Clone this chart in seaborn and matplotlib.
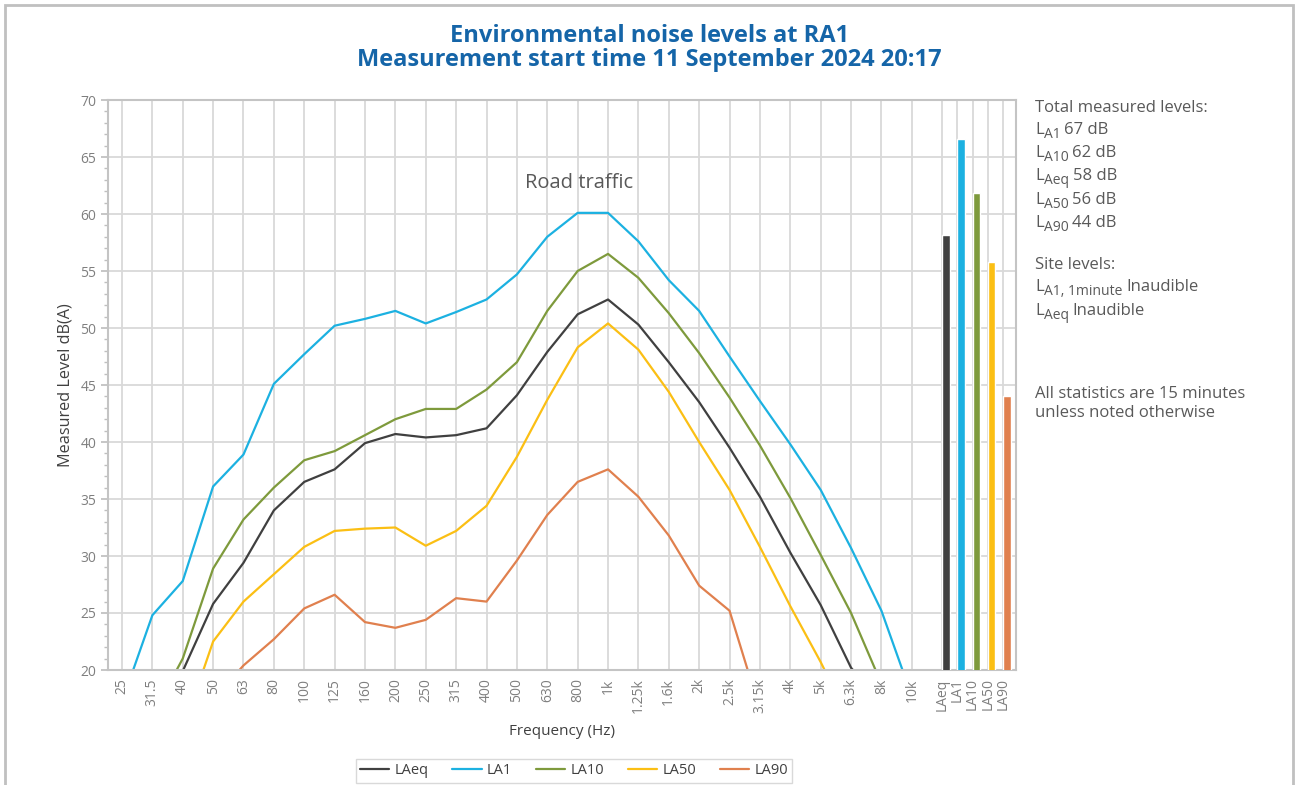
import seaborn as sns
import matplotlib.pyplot as plt
import numpy as np
import pandas as pd
from matplotlib.ticker import MultipleLocator
from matplotlib.patches import Rectangle

# third-octave band labels
freqs = ['25', '31.5', '40', '50', '63', '80', '100', '125', '160', '200', '250', '315',
         '400', '500', '630', '800', '1k', '1.25k', '1.6k', '2k', '2.5k', '3.15k', '4k',
         '5k', '6.3k', '8k', '10k']

laeq = [12.0, 15.0, 19.9, 25.8, 29.4, 34.0, 36.5, 37.6, 39.9, 40.7, 40.4, 40.6, 41.2, 44.1,
        47.9, 51.2, 52.5, 50.3, 47.0, 43.5, 39.5, 35.2, 30.3, 25.7, 20.2, 17.0, 10.0]
la1 = [17.2, 24.8, 27.8, 36.1, 38.9, 45.1, 47.7, 50.2, 50.8, 51.5, 50.4, 51.4, 52.5, 54.7,
       58.0, 60.1, 60.1, 57.6, 54.2, 51.5, 47.5, 43.6, 39.8, 35.8, 30.7, 25.2, 17.7]
la10 = [13.0, 16.0, 21.0, 28.9, 33.2, 36.0, 38.4, 39.2, 40.6, 42.0, 42.9, 42.9, 44.6, 47.0,
        51.5, 55.0, 56.5, 54.4, 51.3, 47.8, 43.9, 39.7, 35.1, 30.1, 25.0, 18.8, 13.0]
la50 = [10.0, 12.0, 14.7, 22.5, 26.0, 28.4, 30.8, 32.2, 32.4, 32.5, 30.9, 32.2, 34.4, 38.7,
        43.7, 48.3, 50.4, 48.1, 44.4, 40.0, 35.8, 30.8, 25.6, 20.7, 15.3, 10.0, 8.0]
la90 = [8.0, 10.0, 12.0, 17.4, 20.4, 22.7, 25.4, 26.6, 24.2, 23.7, 24.4, 26.3, 26.0, 29.6,
        33.6, 36.5, 37.6, 35.2, 31.8, 27.4, 25.2, 16.5, 10.0, 8.0, 6.0, 5.0, 5.0]

total_labels = ['LAeq', 'LA1', 'LA10', 'LA50', 'LA90']
total_values = [58.2, 66.6, 61.8, 55.8, 44.0]

colours = {'LAeq': '#404040', 'LA1': '#1cb1e1', 'LA10': '#7e9a3c',
           'LA50': '#fbbf14', 'LA90': '#e0804e'}

series = {'LAeq': laeq, 'LA1': la1, 'LA10': la10, 'LA50': la50, 'LA90': la90}
pos = np.arange(len(freqs))
df = pd.concat([pd.DataFrame({'x': pos, 'level': v, 'stat': k}) for k, v in series.items()])

sns.set_theme(style='white')
plt.rcParams['font.family'] = ['Open Sans', 'DejaVu Sans']

fig = plt.figure(figsize=(12.96, 7.85), dpi=100)
ax = fig.add_axes([108 / 1296, 1 - 670 / 785, (1016 - 108) / 1296, (670 - 100) / 785])

sns.lineplot(data=df, x='x', y='level', hue='stat', hue_order=total_labels,
             palette=colours, linewidth=1.6, ax=ax)

bar_pos = len(freqs) + 0.5 * np.arange(len(total_labels))
ax.bar(bar_pos, total_values, width=0.25, align='edge',
       color=[colours[k] for k in total_labels], zorder=3)

ax.set_ylim(20, 70)
ax.set_xlim(-0.46, 29.43)
ax.yaxis.set_major_locator(MultipleLocator(5))
ax.yaxis.set_minor_locator(MultipleLocator(1))
ax.tick_params(axis='y', which='both', left=True, direction='out', color='#bfbfbf',
               labelsize=10, labelcolor='#7f7f7f')
ax.tick_params(axis='y', which='major', length=5)
ax.tick_params(axis='y', which='minor', length=3)
ax.set_xticks(list(pos) + list(bar_pos))
ax.set_xticklabels(freqs + total_labels, rotation=90, fontsize=10, color='#7f7f7f')
ax.tick_params(axis='x', length=0, pad=6)
ax.grid(True, which='major', color='#d9d9d9', linewidth=1.3)
ax.set_axisbelow(True)
for s in ax.spines.values():
    s.set_color('#c4c4c4')
    s.set_linewidth(1.5)

ax.set_xlabel('Frequency (Hz)', fontsize=11, color='#404040', labelpad=8)
ax.set_ylabel('Measured Level dB(A)', fontsize=11.7, color='#404040', labelpad=5)

ax.text(15.05, 62.7, 'Road traffic', fontsize=14.5, color='#595959', ha='center', va='center')

handles, labels = ax.get_legend_handles_labels()
ax.get_legend().remove()
fig.legend(handles, labels, loc='center', bbox_to_anchor=(574 / 1296, 1 - 771 / 785),
           ncol=5, fontsize=10.5, frameon=True, fancybox=False, edgecolor='#d0d0d0',
           handlelength=2.0, handletextpad=0.35, columnspacing=1.65, borderpad=0.3,
           labelcolor='#404040')

fig.text(0.501, 1 - 48 / 785,
         'Environmental noise levels at RA1\nMeasurement start time 11 September 2024 20:17',
         ha='center', va='center', fontsize=17, fontweight='bold', color='#1565a8',
         linespacing=1.05)

# right-hand notes, subscripts drawn as separate smaller text
renderer = fig.canvas.get_renderer()
x0 = 1035
txt_kw = dict(color='#595959', ha='left', va='baseline')


def note(y, main, sub=None, rest=''):
    yb = 1 - (y + 5) / 785
    t = fig.text(x0 / 1296, yb, main, fontsize=12, **txt_kw)
    if sub is None:
        return
    w = t.get_window_extent(renderer).width
    s = fig.text((x0 + w) / 1296, yb - 4 / 785, sub, fontsize=10, **txt_kw)
    w2 = s.get_window_extent(renderer).width
    fig.text((x0 + w + w2 + 4) / 1296, yb, rest, fontsize=12, **txt_kw)


note(107, 'Total measured levels:')
note(129, 'L', 'A1', '67 dB')
note(152, 'L', 'A10', '62 dB')
note(175, 'L', 'Aeq', '58 dB')
note(199, 'L', 'A50', '56 dB')
note(222, 'L', 'A90', '44 dB')
note(264, 'Site levels:')
note(286, 'L', 'A1, 1minute', 'Inaudible')
note(310, 'L', 'Aeq', 'Inaudible')
note(393, 'All statistics are 15 minutes')
note(412, 'unless noted otherwise')

fig.patches.append(Rectangle((5 / 1296, -0.02), 1288 / 1296, 1.02 - 5 / 785,
                             transform=fig.transFigure, fill=False, edgecolor='#c0c0c0',
                             linewidth=2))

fig.savefig('out.png', dpi=100)
